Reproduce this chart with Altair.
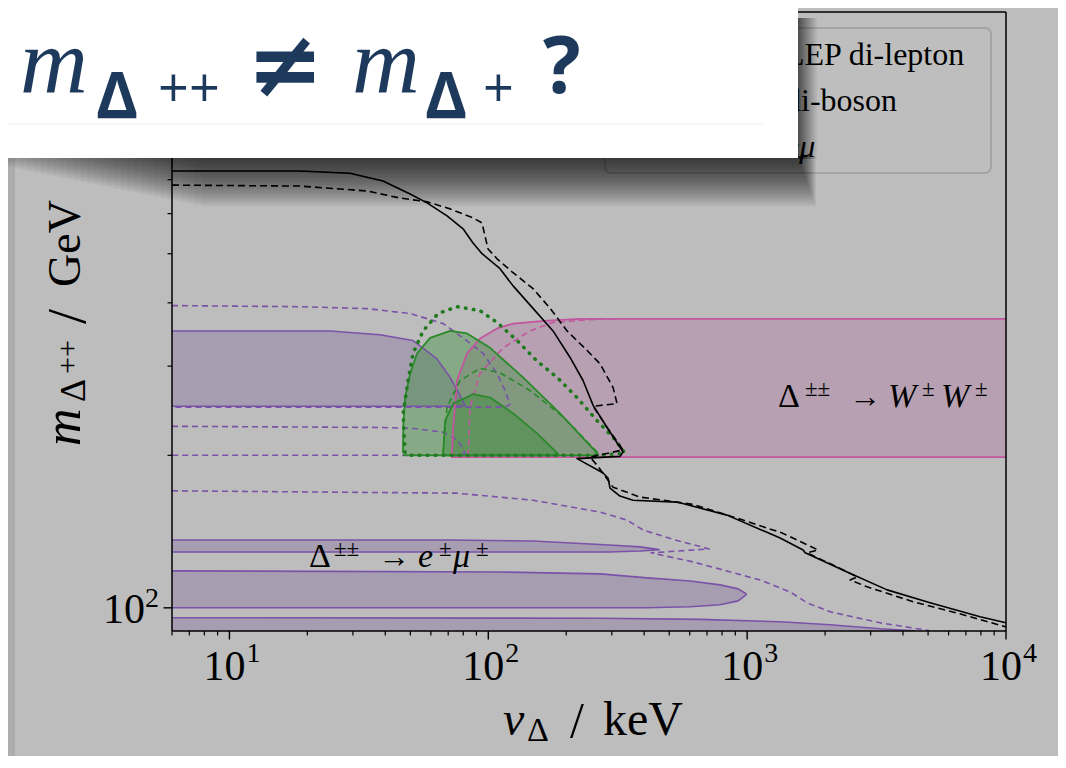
import altair as alt
import pandas as pd

# ---------------- axes / ticks ----------------
X_DOMAIN = [6, 10000]          # v_Delta / keV
Y_DOMAIN = [90, 1500]          # m_Delta++ / GeV
X_MAJOR = [10, 100, 1000, 10000]
X_LABEL_BASE = ["10", "10", "10", "10"]
X_LABEL_EXP = ["1", "2", "3", "4"]
X_MINOR = [6, 7, 8, 9, 20, 30, 40, 50, 60, 70, 80, 90, 200, 300, 400, 500, 600, 700, 800, 900,
           2000, 3000, 4000, 5000, 6000, 7000, 8000, 9000]
Y_MAJOR = [100, 1000]
Y_LABEL_BASE = ["10", "10"]
Y_LABEL_EXP = ["2", "3"]
Y_MINOR = [200, 300, 400, 500, 600, 700, 800, 900]

# ---------------- LEP di-lepton (black) ----------------
LEP_SOLID_X = [6.0, 18.7, 29.2, 39.2, 49.9, 58.0, 69.3, 79.9, 87.3, 94.6, 111.0, 124.7, 148.9, 177.9,
               207.0, 232.3, 254.1, 287.7, 331.6, 322.6, 220.3, 277.7, 290.4, 295.3, 322.6, 362.2,
               536, 836, 1341, 1645, 1675, 2432, 3473, 5090, 7943, 10000]
LEP_SOLID_Y = [728, 728, 721, 696, 656, 630, 594, 560, 525, 500, 467, 432, 390, 352,
               312, 281, 251, 227, 203, 199, 197, 184.5, 180.2, 172.3, 166.2, 163,
               161.7, 152.4, 137.3, 130.1, 128.4, 117.7, 108.5, 102.3, 96.0, 93.4]
LEP_DASH_X = [6.0, 18.7, 34.0, 45.6, 58.0, 71.2, 87.3, 94.6, 97.1, 99.8, 108.1, 124.7, 148.9, 173.4,
              201.5, 241.0, 270.4, 303.5, 314.3, 254.1, 287.7, 331.6, 247.2, 263.3, 303.5, 386, 618,
              964, 1365, 1880, 1706, 2349, 2661, 2500, 2907, 4378, 6830, 10000]
LEP_DASH_Y = [683, 680, 665, 644, 633, 613, 588.6, 575, 542, 511, 488.6, 458.6, 426.6, 390,
              352, 322, 303, 272, 253, 250, 227, 205, 198.3, 191.2, 173, 165.4, 160,
              149, 140.5, 130.1, 128.4, 118.8, 115.1, 113.5, 110, 102.8, 96.9, 91.7]

# ---------------- Delta++ -> e mu (purple) ----------------
BAND_A_X = [6.0, 24.5, 38.2, 51.2, 63.4, 71.2, 77.8, 81.3]
BAND_A_TOP = [352, 352, 346, 337, 310, 285, 262.6, 251]
BAND_A_BOT = [250, 250, 250, 250, 250, 250, 250, 250.5]
BAND_B_X = [6.0, 71.2, 148.9, 292.9, 386, 456.8]
BAND_B_TOP = [136.1, 136.1, 135.5, 133.0, 131.9, 130.3]
BAND_B_BOT = [128.9, 128.9, 128.9, 128.9, 129.5, 130.2]
BAND_C_X = [6.0, 111, 270.4, 410.6, 602.6, 786.6, 922.6, 990.8]
BAND_C_TOP = [118.3, 117.7, 116.7, 114.6, 113.0, 111.0, 109.0, 106.6]
BAND_C_BOT = [100, 100, 100, 100, 100.5, 101.4, 103.2, 106.1]
BAND_D_X = [6.0, 270.4, 658, 1341, 2092, 3266, 4457]
BAND_D_TOP = [95.6, 95.4, 94.9, 93.85, 92.6, 90.9, 90.05]
BAND_D_BOT = [90, 90, 90, 90, 90, 90, 90]

EMU_DASH1_X = [6.0, 18.7, 34.0, 49.9, 66.9, 79.9, 95.4, 108.1, 116.1, 121.3, 116.1, 6.0]
EMU_DASH1_Y = [395, 393, 389.6, 381, 364, 341, 318, 290, 268.5, 252.1, 249, 249]
EMU_DASH2_X = [6.0, 38.2, 51.2, 66.9, 76.4, 81.3, 76.0, 6.0]
EMU_DASH2_Y = [228.2, 227, 226, 222.1, 214.1, 202, 200, 200]
EMU_DASH3_X = [6.0, 75.1, 148.9, 270.4, 343.6, 396.3, 526.8, 713, 425.5, 618, 1122, 1465, 1706,
               2092, 3266, 5090]
EMU_DASH3_Y = [170.2, 168.4, 163.1, 154.5, 149, 142.4, 136.1, 130.7, 128.4, 123.2, 113.5, 107.5,
               102.3, 98.2, 93.4, 90.1]

# ---------------- Delta++ -> W W (magenta) ----------------
WW_X = [72.4, 73.1, 75.7, 82.8, 92.9, 108.1, 124.7, 168.7, 226.3, 10000]
WW_TOP = [200, 224, 281, 318, 340, 356, 364, 369, 372, 372]
WW_BOT = [198.3, 198.3, 198.3, 198.3, 198.3, 198.3, 198.3, 198.3, 198.3, 198.3]
WW_DASH_X = [83.6, 85.0, 92.9, 114.1, 145.0, 177.9, 270.4, 322.6]
WW_DASH_Y = [200, 249, 290, 326, 352, 366, 371.7, 372]

# ---------------- green regions ----------------
GB_X = [46.8, 47.0, 47.7, 49.9, 53.1, 59.6, 71.2, 82.8, 101.6, 136.2, 189.3, 265.5]
GB_TOP = [202, 231, 260, 290, 318, 341, 352, 348, 326, 285, 242, 201]
GB_BOT = [200] * 12
GS_X = [66.9, 68.1, 73.1, 87.3, 101.6, 124.7, 154.3, 186.2]
GS_TOP = [200.5, 234, 253, 264, 260, 242, 221, 201]
GS_BOT = [200] * 8
G_DASH_X = [66.9, 69.3, 77.8, 92.9, 111.0, 145.0, 194.5, 251.8, 270.4]
G_DASH_Y = [202, 249, 281, 297, 291, 268.5, 238, 208, 200]
G_DOT_X = [47.7, 46.9, 49.0, 51.2, 56.0, 64.0, 75.7, 92.9, 108.1, 129.2, 154.3, 184.5, 220.3, 263.3,
           303.5, 337.3, 265.5, 47.7]
G_DOT_Y = [202.8, 242, 281, 318, 352, 381, 393, 386, 366, 337, 307, 285, 260, 234, 217, 202, 200, 200]

# ---------------- texts ----------------
LEGEND_LABELS = ["LEP di-lepton", "di-boson", "eμ"]

NAVY = "#1d3a5c"
PURPLE = "#7a52a8"
PINK = "#c2559d"
GREEN = "#2a8a2a"
BG = "#bdbdbd"

XS = alt.Scale(type="log", domain=X_DOMAIN, nice=False)
YS = alt.Scale(type="log", domain=Y_DOMAIN, nice=False)
DUMMY = pd.DataFrame({"k": [0]})


def area(xs, tops, bots, color, opacity):
    df = pd.DataFrame({"x": xs, "top": tops, "bot": bots})
    return alt.Chart(df).mark_area(color=color, opacity=opacity, clip=True).encode(
        x=alt.X("x:Q", scale=XS, axis=None),
        y=alt.Y("top:Q", scale=YS, axis=None),
        y2=alt.Y2("bot"))


def path(xs, ys, color, width, dash=None, cap="butt"):
    df = pd.DataFrame({"x": xs, "y": ys, "i": list(range(len(xs)))})
    kw = dict(color=color, strokeWidth=width, clip=True, strokeCap=cap, strokeJoin="round")
    if dash is not None:
        kw["strokeDash"] = dash
    return alt.Chart(df).mark_line(**kw).encode(
        x=alt.X("x:Q", scale=XS, axis=None),
        y=alt.Y("y:Q", scale=YS, axis=None),
        order=alt.Order("i:Q"))


def rect(x1, x2, y1, y2, **kw):
    return alt.Chart(DUMMY).mark_rect(**kw).encode(
        x=alt.value(x1), x2=alt.value(x2), y=alt.value(y1), y2=alt.value(y2))


def rule(x1, x2, y1, y2, **kw):
    return alt.Chart(DUMMY).mark_rule(**kw).encode(
        x=alt.value(x1), x2=alt.value(x2), y=alt.value(y1), y2=alt.value(y2))


def txt(s, x, y, size, font="Liberation Serif", style="normal", weight="normal",
        color="black", angle=0, align="left"):
    return alt.Chart(DUMMY).mark_text(
        text=s, font=font, fontSize=size, fontStyle=style, fontWeight=weight,
        color=color, angle=angle, align=align, baseline="alphabetic").encode(
        x=alt.value(x), y=alt.value(y))


def grad(stops, x2=1, y2=0):
    return alt.LinearGradient(
        gradient="linear", x1=0, y1=0, x2=x2, y2=y2,
        stops=[alt.GradientStop(color=c, offset=o) for o, c in stops])


def outline(xs, tops, bots):
    return xs + xs[::-1], tops + bots[::-1]


layers = []
# slide edge strip
layers.append(rect(-172, -157, -12, 760, color="#adadad"))

# fills
layers.append(area(WW_X, WW_TOP, WW_BOT, "#a8649a", 0.32))
for bx, bt, bb in [(BAND_D_X, BAND_D_TOP, BAND_D_BOT), (BAND_C_X, BAND_C_TOP, BAND_C_BOT),
                   (BAND_B_X, BAND_B_TOP, BAND_B_BOT), (BAND_A_X, BAND_A_TOP, BAND_A_BOT)]:
    layers.append(area(bx, bt, bb, "#6a4c93", 0.28))
layers.append(area(GB_X, GB_TOP, GB_BOT, "#2e8b2e", 0.38))
layers.append(area(GS_X, GS_TOP, GS_BOT, "#2e8b2e", 0.38))

# purple outlines
for bx, bt, bb in [(BAND_C_X, BAND_C_TOP, BAND_C_BOT), (BAND_B_X, BAND_B_TOP, BAND_B_BOT),
                   (BAND_A_X, BAND_A_TOP, BAND_A_BOT)]:
    ox, oy = outline(bx, bt, bb)
    layers.append(path(ox, oy, PURPLE, 1.6))
layers.append(path(BAND_D_X, BAND_D_TOP, PURPLE, 1.6))
layers.append(path(EMU_DASH1_X, EMU_DASH1_Y, PURPLE, 1.6, [6, 4]))
layers.append(path(EMU_DASH2_X, EMU_DASH2_Y, PURPLE, 1.6, [6, 4]))
layers.append(path(EMU_DASH3_X, EMU_DASH3_Y, PURPLE, 1.6, [6, 4]))

# magenta outlines
layers.append(path(WW_X[::-1] + WW_X, WW_BOT[::-1] + WW_TOP, PINK, 1.8))
layers.append(path(WW_DASH_X, WW_DASH_Y, PINK, 1.6, [6, 4]))

# green outlines
ox, oy = outline(GB_X, GB_TOP, GB_BOT)
layers.append(path(ox, oy, GREEN, 1.8))
ox, oy = outline(GS_X, GS_TOP, GS_BOT)
layers.append(path(ox, oy, GREEN, 1.8))
layers.append(path(G_DASH_X, G_DASH_Y, GREEN, 1.6, [6, 4]))
layers.append(path(G_DOT_X, G_DOT_Y, "#1f7a1f", 3.6, [0.5, 7.5], cap="round"))

# LEP lines
layers.append(path(LEP_SOLID_X, LEP_SOLID_Y, "black", 1.6))
layers.append(path(LEP_DASH_X, LEP_DASH_Y, "black", 1.6, [7, 4]))

# ---- axes drawn by hand (log scales) ----
xmaj = pd.DataFrame({"v": X_MAJOR, "base": X_LABEL_BASE, "exp": X_LABEL_EXP})
ymaj = pd.DataFrame({"v": Y_MAJOR, "base": Y_LABEL_BASE, "exp": Y_LABEL_EXP})
XF = alt.X("v:Q", scale=XS, axis=None)
YF = alt.Y("v:Q", scale=YS, axis=None)
layers.append(alt.Chart(pd.DataFrame({"v": X_MINOR})).mark_rule(color="black", strokeWidth=1.2).encode(
    x=XF, y=alt.value(619), y2=alt.value(623.5)))
layers.append(alt.Chart(pd.DataFrame({"v": Y_MINOR})).mark_rule(color="black", strokeWidth=1.2).encode(
    y=YF, x=alt.value(0), x2=alt.value(-4.5)))
layers.append(alt.Chart(xmaj).mark_rule(color="black", strokeWidth=1.4).encode(
    x=XF, y=alt.value(619), y2=alt.value(627.5)))
layers.append(alt.Chart(ymaj).mark_rule(color="black", strokeWidth=1.4).encode(
    y=YF, x=alt.value(0), x2=alt.value(-8.5)))
layers.append(alt.Chart(xmaj).mark_text(font="Liberation Serif", fontSize=42, color="black",
                                        align="center", baseline="alphabetic", dx=-5).encode(
    x=XF, y=alt.value(668), text="base:N"))
layers.append(alt.Chart(xmaj).mark_text(font="Liberation Serif", fontSize=28, color="black",
                                        align="left", baseline="alphabetic", dx=17).encode(
    x=XF, y=alt.value(650), text="exp:N"))
layers.append(alt.Chart(ymaj).mark_text(font="Liberation Serif", fontSize=42, color="black",
                                        align="right", baseline="alphabetic", dy=15).encode(
    y=YF, x=alt.value(-27), text="base:N"))
layers.append(alt.Chart(ymaj).mark_text(font="Liberation Serif", fontSize=28, color="black",
                                        align="left", baseline="alphabetic", dy=-1).encode(
    y=YF, x=alt.value(-27), text="exp:N"))

# frame
layers.append(rule(0, 834, 0, 0, color="black", strokeWidth=1.5))
layers.append(rule(0, 834, 619, 619, color="black", strokeWidth=1.5))
layers.append(rule(834, 834, 0, 619, color="black", strokeWidth=1.5))
layers.append(rule(0, 0, 0, 619, color="black", strokeWidth=1.5))

# in-plot annotations: Δ±± → W±W±
layers += [
    txt("Δ", 606, 395, 34), txt("±±", 633, 384, 23), txt("→", 677, 395, 32),
    txt("W", 716, 395, 34, style="italic"), txt("±", 750, 384, 23),
    txt("W", 769, 395, 34, style="italic"), txt("±", 803, 384, 23),
]
# Δ±± → e±μ±
layers += [
    txt("Δ", 137, 555, 34), txt("±±", 162, 544, 23), txt("→", 206, 555, 32),
    txt("e", 246, 555, 34, style="italic"), txt("±", 267, 544, 23),
    txt("μ", 281, 555, 34, style="italic"), txt("±", 304, 544, 23),
]

# axis titles
layers += [
    txt("v", 331, 723, 48, style="italic"), txt("Δ", 355, 729, 34),
    txt("/", 398, 725, 50), txt("keV", 431, 723, 48),
]
layers += [
    txt("m", -92, 434, 52, style="italic", angle=270),
    txt("Δ", -87, 390, 36, angle=270),
    txt("++", -95, 362, 30, angle=270),
    txt("/", -87, 312, 54, angle=270),
    txt("GeV", -92, 275, 46, angle=270),
]

# legend
layers.append(rect(433, 819, 16, 161, fill="#bebebe", stroke="#a4a4a4", strokeWidth=2, cornerRadius=6))
layers.append(txt(LEGEND_LABELS[0], 613, 53, 32))
layers.append(txt(LEGEND_LABELS[1], 613, 99, 32))
layers.append(txt(LEGEND_LABELS[2], 613, 145, 32, style="italic"))

# drop shadow of the title card: many faint stacked rectangles
for k in range(1, 37):
    x1 = -172 - 40 + 6.7 * k
    layers.append(rect(x1, 626 + 0.5 * k, 144, 146 + 1.35 * k, color="black", opacity=0.026))
layers.append(rect(626, 646, 6, 147, fill=grad([(0, "rgba(0,0,0,0.6)"), (1, "rgba(0,0,0,0)")])))

# title card
layers.append(rect(-172, 626, -12, 146, color="white"))
layers.append(rule(-172, 591, 112, 112, color="#efefef", strokeWidth=1))
layers += [
    txt("m", -152, 81, 94, style="italic", color=NAVY),
    txt("Δ", -76, 106, 64, font="Open Sans", weight="bold", color=NAVY),
    txt("++", -14, 95, 54, font="Open Sans", color=NAVY),
    txt("≠", 113, 84, 92, font="DejaVu Sans", weight="bold", color=NAVY, align="center"),
    txt("m", 180, 81, 94, style="italic", color=NAVY),
    txt("Δ", 253, 106, 64, font="Open Sans", weight="bold", color=NAVY),
    txt("+", 311, 95, 54, font="Open Sans", color=NAVY),
    txt("?", 371, 81, 79, font="Open Sans", weight="bold", color=NAVY),
]

chart = alt.layer(*layers).properties(
    width=834, height=619,
    padding={"left": 164, "top": 4, "right": 52, "bottom": 125},
    autosize=alt.AutoSizeParams(type="none"),
    background=BG,
).configure_view(stroke="transparent")

chart.save("out.html", embed_options={"renderer": "svg", "actions": False})
